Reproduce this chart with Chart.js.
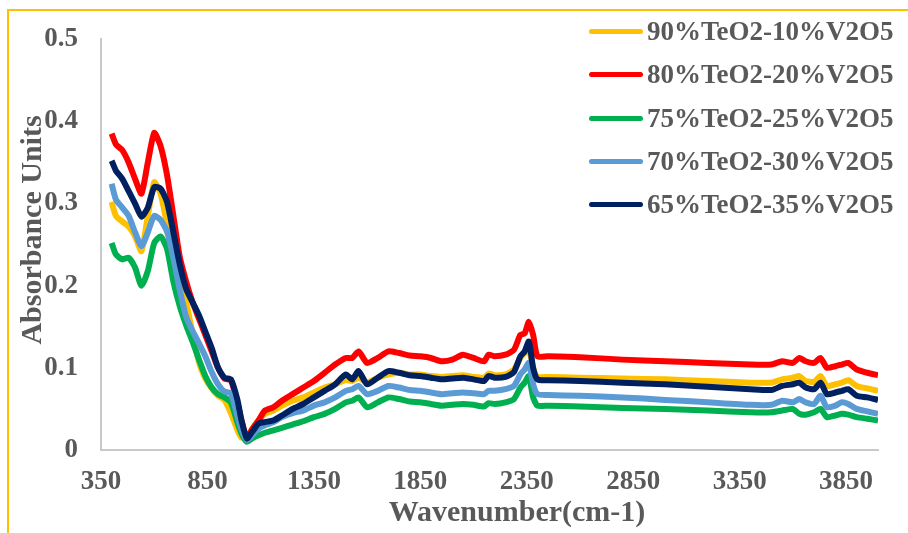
<!DOCTYPE html>
<html>
<head>
<meta charset="utf-8">
<script src="https://cdn.jsdelivr.net/npm/chart.js@4/dist/chart.umd.min.js"></script>
<style>
  html, body { margin: 0; padding: 0; background: #fff; overflow: hidden; }
  #wrap { position: relative; width: 908px; height: 533px; }
  #frame { position: absolute; left: 7px; top: 9px; width: 1000px; height: 1000px;
           border-top: 2px solid #FFC000; border-left: 2px solid #FFC000; }
  #legend { position: absolute; left: 589px; top: 10px; font: bold 27px "Liberation Serif", "Times New Roman", serif; color: #595959; }
  .row { display: flex; align-items: center; height: 43.3px; }
  .swatch { width: 54px; height: 5px; border-radius: 3px; margin-right: 4px; }
</style>
</head>
<body>
<div id="wrap">
  <canvas id="ftir" width="908" height="533"></canvas>
  <div id="frame"></div>
  <div id="legend"></div>
</div>
<script>
const seriesNames = ['90%TeO2-10%V2O5', '80%TeO2-20%V2O5', '75%TeO2-25%V2O5', '70%TeO2-30%V2O5', '65%TeO2-35%V2O5'];
const seriesColors = ['#FFC000', '#FF0000', '#00B050', '#5B9BD5', '#002060'];

const xTicks = [350, 850, 1350, 1850, 2350, 2850, 3350, 3850];
const yTicks = [0, 0.1, 0.2, 0.3, 0.4, 0.5];
const xTitle = 'Wavenumber(cm-1)';
const yTitle = 'Absorbance Units';

const wavenumber = [400, 420, 450, 480, 510, 540, 570, 600, 630, 660, 690, 720, 750, 780, 810, 840, 870, 900, 930, 960,
  990, 1010, 1035, 1060, 1090, 1120, 1160, 1200, 1250, 1300, 1350, 1400, 1450, 1500, 1530, 1560, 1600, 1650, 1700, 1750,
  1800, 1850, 1900, 1950, 2000, 2050, 2100, 2150, 2170, 2200, 2250, 2290, 2320, 2340, 2360, 2380, 2400, 2450, 2600, 2800,
  3000, 3200, 3400, 3500, 3550, 3600, 3630, 3660, 3700, 3730, 3760, 3800, 3830, 3860, 3900, 3950, 4000];

const te90 = [0.302, 0.285, 0.278, 0.272, 0.26, 0.242, 0.285, 0.326, 0.312, 0.275, 0.24, 0.21, 0.18, 0.142, 0.107, 0.087, 0.075, 0.066, 0.061, 0.045,
  0.025, 0.015, 0.016, 0.026, 0.036, 0.044, 0.048, 0.054, 0.06, 0.064, 0.07, 0.076, 0.08, 0.085, 0.084, 0.088, 0.082, 0.088, 0.092, 0.094,
  0.092, 0.092, 0.09, 0.089, 0.09, 0.091, 0.089, 0.088, 0.093, 0.091, 0.092, 0.098, 0.112, 0.118, 0.122, 0.1, 0.089, 0.089, 0.088, 0.087,
  0.086, 0.084, 0.082, 0.082, 0.086, 0.088, 0.09, 0.084, 0.083, 0.09, 0.078, 0.08, 0.082, 0.085, 0.078, 0.075, 0.072];

const te80 = [0.385, 0.372, 0.365, 0.35, 0.33, 0.312, 0.35, 0.386, 0.37, 0.335, 0.285, 0.235, 0.205, 0.18, 0.16, 0.14, 0.12, 0.1, 0.087, 0.085,
  0.058, 0.036, 0.015, 0.025, 0.036, 0.048, 0.052, 0.06, 0.068, 0.076, 0.084, 0.094, 0.104, 0.112, 0.112, 0.12, 0.106, 0.112, 0.12, 0.118,
  0.115, 0.114, 0.112, 0.108, 0.11, 0.116, 0.112, 0.108, 0.116, 0.114, 0.116, 0.122, 0.14, 0.142, 0.156, 0.14, 0.114, 0.114, 0.113, 0.11,
  0.108, 0.106, 0.104, 0.104, 0.108, 0.106, 0.112, 0.108, 0.106, 0.112, 0.1, 0.102, 0.104, 0.106, 0.098, 0.094, 0.091];

const te75 = [0.252, 0.238, 0.232, 0.234, 0.222, 0.2, 0.218, 0.252, 0.26, 0.245, 0.205, 0.175, 0.152, 0.132, 0.11, 0.09, 0.076, 0.068, 0.064, 0.058,
  0.034, 0.02, 0.01, 0.014, 0.018, 0.021, 0.024, 0.027, 0.031, 0.035, 0.04, 0.044, 0.05, 0.058, 0.06, 0.064, 0.052, 0.058, 0.064, 0.062,
  0.059, 0.058, 0.056, 0.054, 0.055, 0.056, 0.055, 0.053, 0.057, 0.056, 0.058, 0.062, 0.076, 0.082, 0.09, 0.064, 0.054, 0.054, 0.053, 0.051,
  0.05, 0.048, 0.046, 0.046, 0.048, 0.05, 0.044, 0.043, 0.046, 0.05, 0.04, 0.042, 0.044, 0.043, 0.04, 0.038, 0.036];

const te70 = [0.324, 0.305, 0.295, 0.285, 0.265, 0.248, 0.265, 0.285, 0.28, 0.266, 0.234, 0.195, 0.162, 0.145, 0.13, 0.114, 0.095, 0.08, 0.071, 0.069,
  0.042, 0.025, 0.012, 0.018, 0.026, 0.03, 0.034, 0.04, 0.045, 0.048, 0.054, 0.058, 0.064, 0.072, 0.074, 0.078, 0.068, 0.072, 0.078, 0.076,
  0.073, 0.072, 0.07, 0.068, 0.069, 0.07, 0.069, 0.068, 0.072, 0.072, 0.074, 0.078, 0.092, 0.098, 0.106, 0.08, 0.068, 0.067, 0.066, 0.064,
  0.061, 0.058, 0.055, 0.055, 0.06, 0.058, 0.062, 0.058, 0.056, 0.066, 0.052, 0.054, 0.058, 0.056, 0.05, 0.047, 0.044];

const te65 = [0.352, 0.34, 0.33, 0.315, 0.3, 0.284, 0.295, 0.32, 0.318, 0.302, 0.265, 0.226, 0.196, 0.18, 0.164, 0.144, 0.124, 0.1, 0.088, 0.086,
  0.062, 0.036, 0.014, 0.022, 0.032, 0.034, 0.036, 0.042, 0.05, 0.056, 0.064, 0.072, 0.08, 0.092, 0.086, 0.096, 0.08, 0.088, 0.096, 0.094,
  0.091, 0.09, 0.088, 0.086, 0.087, 0.088, 0.086, 0.084, 0.09, 0.088, 0.089, 0.095, 0.114, 0.12, 0.132, 0.1, 0.086, 0.085, 0.084, 0.082,
  0.08, 0.077, 0.074, 0.073, 0.078, 0.08, 0.082, 0.076, 0.074, 0.082, 0.068, 0.07, 0.072, 0.074, 0.066, 0.064, 0.061];

const seriesValues = [te90, te80, te75, te70, te65];

const fontFamily = '"Liberation Serif", "Times New Roman", serif';
const textColor = '#595959';

// html legend, same look as the excel one sitting over the plot
const legend_el = document.getElementById('legend');
seriesNames.forEach((name, i) => {
  const row = document.createElement('div');
  row.className = 'row';
  row.innerHTML = '<div class="swatch" style="background:' + seriesColors[i] + '"></div><span>' + name + '</span>';
  legend_el.appendChild(row);
});

// excel puts the axis titles a bit off the plot centre, so draw them by hand
const axisTitles = {
  id: 'axisTitles',
  afterDraw(chart) {
    const c = chart.ctx;
    c.save();
    c.fillStyle = textColor;
    c.font = 'bold 30px ' + fontFamily;
    c.textAlign = 'center';
    c.textBaseline = 'middle';
    c.fillText(xTitle, 517, 513);
    c.translate(33, 230);
    c.rotate(-Math.PI / 2);
    c.fillText(yTitle, 0, 0);
    c.restore();
  }
};

const ctx = document.getElementById('ftir').getContext('2d');

new Chart(ctx, {
  type: 'line',
  data: {
    datasets: seriesNames.map((name, i) => ({
      label: name,
      data: wavenumber.map((w, k) => ({x: w, y: seriesValues[i][k]})),
      borderColor: seriesColors[i],
      backgroundColor: seriesColors[i],
      borderWidth: 6,
      pointRadius: 0,
      tension: 0.2,
      fill: false,
      order: seriesNames.length - i
    }))
  },
  options: {
    responsive: false,
    animation: false,
    layout: {
      padding: {top: 33, right: 30, left: 0, bottom: 0}
    },
    plugins: {
      legend: { display: false },
      tooltip: { enabled: false }
    },
    scales: {
      x: {
        type: 'linear',
        min: 350,
        max: 4000,
        afterBuildTicks: (axis) => { axis.ticks = xTicks.map(v => ({value: v})); },
        afterFit: (axis) => { axis.height = 83; },
        grid: { display: false, drawTicks: false },
        border: { display: true, color: '#c9c9c9', width: 2 },
        ticks: {
          autoSkip: false,
          maxRotation: 0,
          padding: 16,
          color: textColor,
          font: { family: fontFamily, size: 27, weight: 'bold' },
          callback: (v) => String(v)
        }
      },
      y: {
        min: 0,
        max: 0.5,
        afterBuildTicks: (axis) => { axis.ticks = yTicks.map(v => ({value: v})); },
        afterFit: (axis) => { axis.width = 101; },
        grid: { display: false, drawTicks: false },
        border: { display: true, color: '#c9c9c9', width: 2 },
        ticks: {
          padding: 23,
          color: textColor,
          font: { family: fontFamily, size: 27, weight: 'bold' },
          callback: (v) => String(Math.round(v * 10) / 10)
        }
      }
    }
  },
  plugins: [axisTitles]
});
</script>
</body>
</html>
